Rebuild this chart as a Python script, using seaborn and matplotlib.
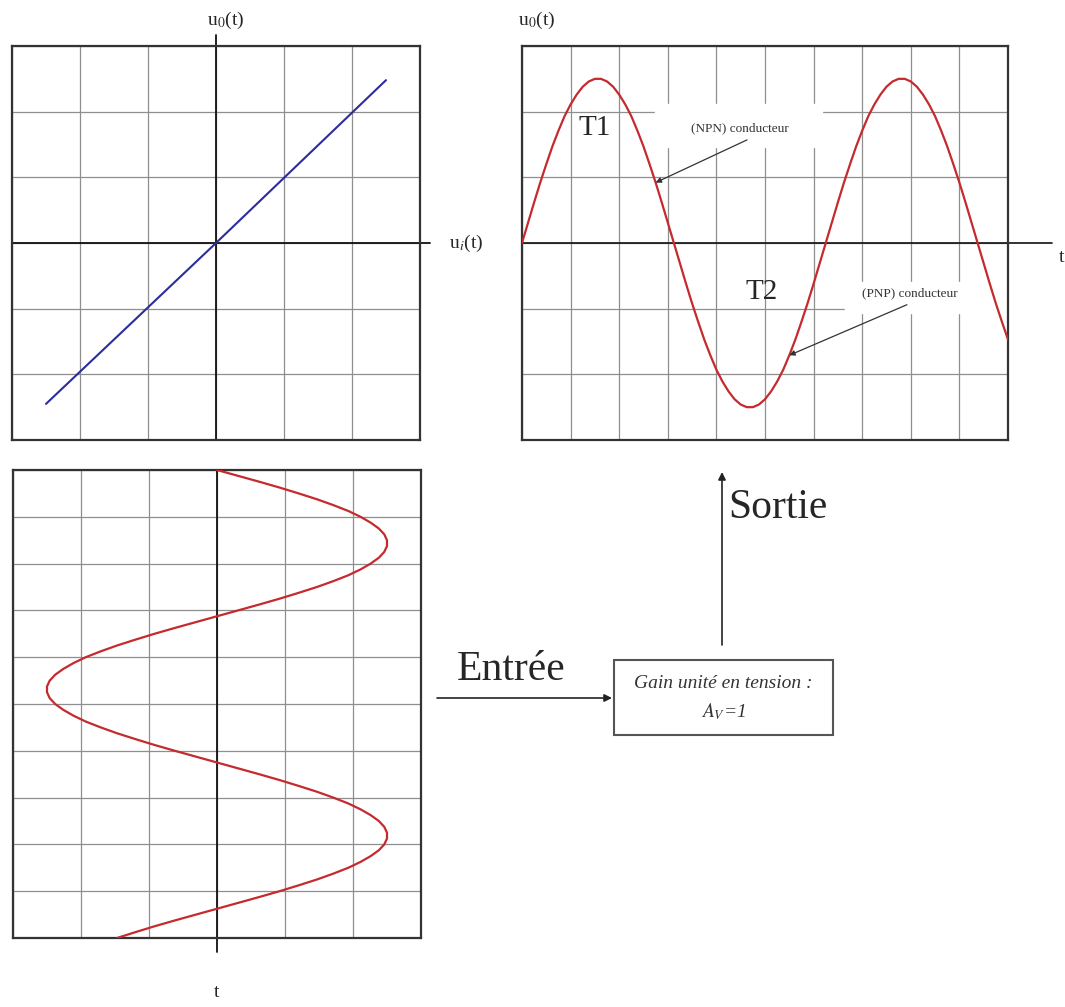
import matplotlib.pyplot as plt
import seaborn as sns
from matplotlib.patches import Rectangle

# Transfert u0 = f(ui) : droite de pente 1 (gain unite)
ui_line = [-2.5, 0.0, 2.5]
uo_line = [-2.45, 0.0, 2.48]

t_div = [0.0, 0.125, 0.25, 0.375, 0.5, 0.625, 0.75, 0.875, 1.0, 1.125,
         1.25, 1.375, 1.5, 1.625, 1.75, 1.875, 2.0, 2.125, 2.25, 2.375,
         2.5, 2.625, 2.75, 2.875, 3.0, 3.125, 3.25, 3.375, 3.5, 3.625,
         3.75, 3.875, 4.0, 4.125, 4.25, 4.375, 4.5, 4.625, 4.75, 4.875,
         5.0, 5.125, 5.25, 5.375, 5.5, 5.625, 5.75, 5.875, 6.0, 6.125,
         6.25, 6.375, 6.5, 6.625, 6.75, 6.875, 7.0, 7.125, 7.25, 7.375,
         7.5, 7.625, 7.75, 7.875, 8.0, 8.125, 8.25, 8.375, 8.5, 8.625,
         8.75, 8.875, 9.0, 9.125, 9.25, 9.375, 9.5, 9.625, 9.75, 9.875, 10.0]
u_in = [0.0, 0.31, 0.62, 0.92, 1.20, 1.47, 1.71, 1.93, 2.11, 2.26,
        2.38, 2.46, 2.50, 2.50, 2.46, 2.38, 2.26, 2.11, 1.93, 1.71,
        1.47, 1.20, 0.92, 0.62, 0.31, 0.0, -0.31, -0.62, -0.92, -1.20,
        -1.47, -1.71, -1.93, -2.11, -2.26, -2.38, -2.46, -2.50, -2.50, -2.46,
        -2.38, -2.26, -2.11, -1.93, -1.71, -1.47, -1.20, -0.92, -0.62, -0.31,
        0.0, 0.31, 0.62, 0.92, 1.20, 1.47, 1.71, 1.93, 2.11, 2.26,
        2.38, 2.46, 2.50, 2.50, 2.46, 2.38, 2.26, 2.11, 1.93, 1.71,
        1.47, 1.20, 0.92, 0.62, 0.31, 0.0, -0.31, -0.62, -0.92, -1.20, -1.47]
u_out = u_in  # gain unite en tension : Av = 1

RED = "#c42a2e"
BLUE = "#2c2c9c"

sns.set_style("white")
plt.rcParams["font.family"] = ["Liberation Serif", "DejaVu Serif"]
plt.rcParams["mathtext.fontset"] = "stix"

W, H = 1065, 1007
fig = plt.figure(figsize=(W / 100, H / 100), dpi=100)


def box(l, t, r, b):
    return [l / W, 1 - b / H, (r - l) / W, (b - t) / H]


def panel(rect, xlim, ylim, xt, yt):
    ax = fig.add_axes(rect)
    ax.set_xlim(*xlim)
    ax.set_ylim(*ylim)
    ax.set_xticks(xt)
    ax.set_yticks(yt)
    ax.grid(True, color="#8f8f8f", lw=0.9)
    ax.set_axisbelow(True)
    ax.tick_params(length=0, labelbottom=False, labelleft=False)
    for s in ax.spines.values():
        s.set_visible(True)
        s.set_color("#333333")
        s.set_linewidth(1.6)
    return ax


# Caracteristique de transfert
ax1 = panel(box(12, 46, 420, 440), (-3, 3), (-3, 3), range(-3, 4), range(-3, 4))
sns.lineplot(x=ui_line, y=uo_line, ax=ax1, color=BLUE, lw=1.5, sort=False, estimator=None, zorder=3)
ax1.plot([-3, 3.15], [0, 0], color="#111111", lw=1.3, clip_on=False, zorder=2)
ax1.plot([0, 0], [-3, 3.17], color="#111111", lw=1.3, clip_on=False, zorder=2)
ax1.set_xlim(-3, 3)
ax1.set_ylim(-3, 3)

# Sortie
ax2 = panel(box(522, 46, 1008, 440), (0, 10), (-3, 3), range(0, 11), range(-3, 4))
ax2.add_patch(Rectangle((2.74, 1.46), 3.43, 0.66, color="white", zorder=1))
ax2.add_patch(Rectangle((6.65, -1.07), 3.3, 0.47, color="white", zorder=1))
sns.lineplot(x=t_div, y=u_out, ax=ax2, color=RED, lw=1.6, sort=False, estimator=None, zorder=3)
ax2.plot([0, 10.9], [0, 0], color="#111111", lw=1.2, clip_on=False, zorder=2)
ax2.set_xlim(0, 10)
ax2.set_ylim(-3, 3)
ax2.text(1.5, 1.75, "T1", fontsize=21, ha="center", va="center", zorder=4)
ax2.text(4.94, -0.75, "T2", fontsize=21, ha="center", va="center", zorder=4)
ax2.text(4.49, 1.75, "(NPN) conducteur", fontsize=9.5, color="#333333", ha="center", va="center", zorder=4)
ax2.text(7.98, -0.76, "(PNP) conducteur", fontsize=9.5, color="#333333", ha="center", va="center", zorder=4)
arrow = dict(arrowstyle="-|>", color="#333333", lw=0.9, mutation_scale=8, shrinkA=0, shrinkB=0)
ax2.annotate("", xy=(t_div[22], u_out[22]), xytext=(4.63, 1.57), arrowprops=arrow, zorder=4)
ax2.annotate("", xy=(t_div[44], u_out[44]), xytext=(7.92, -0.94), arrowprops=arrow, zorder=4)

# Entree (temps vers le bas)
ax3 = panel(box(13, 470, 421, 938), (-3, 3), (10, 0), range(-3, 4), range(0, 11))
sns.lineplot(x=u_in, y=t_div, ax=ax3, color=RED, lw=1.6, sort=False, estimator=None, zorder=3)
ax3.plot([0, 0], [0, 10.3], color="#111111", lw=1.3, clip_on=False, zorder=2)
ax3.set_xlim(-3, 3)
ax3.set_ylim(10, 0)

# Schema bloc et etiquettes (coordonnees en pixels)
ov = fig.add_axes([0, 0, 1, 1])
ov.set_xlim(0, W)
ov.set_ylim(H, 0)
ov.axis("off")

ov.text(226, 20, "u$_0$(t)", fontsize=14, ha="center", va="center")
ov.text(466, 243, "u$_i$(t)", fontsize=14, ha="center", va="center")
ov.text(537, 20, "u$_0$(t)", fontsize=14, ha="center", va="center")
ov.text(1062, 258, "t", fontsize=14, ha="center", va="center")
ov.text(217, 984, "t", fontsize=14, ha="center", va="top")

ov.text(511, 670, "Entrée", fontsize=30, ha="center", va="center")
ov.text(778, 508, "Sortie", fontsize=30, ha="center", va="center")
ov.add_patch(Rectangle((614, 660), 219, 75, facecolor="white", edgecolor="#555555", lw=1.5))
ov.text(723, 684, "Gain unité en tension :", fontsize=14, style="italic", color="#333333",
        ha="center", va="center")
ov.text(723, 712, "$A_V$=1", fontsize=14, style="italic", color="#333333", ha="center", va="center")

big = dict(arrowstyle="-|>", color="#222222", lw=1.2, mutation_scale=11, shrinkA=0, shrinkB=0)
ov.annotate("", xy=(612, 698), xytext=(437, 698), arrowprops=big)
ov.annotate("", xy=(722, 472), xytext=(722, 645), arrowprops=big)

plt.savefig("out.png", dpi=100)
